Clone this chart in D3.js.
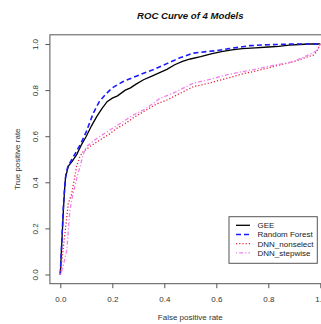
<!DOCTYPE html>
<html><head><meta charset="utf-8">
<script src="https://cdn.jsdelivr.net/npm/d3@7"></script>
<style>body{margin:0;background:#fff}svg{display:block}text{font-family:"Liberation Sans",Arial,sans-serif}</style>
</head><body>
<script>
const xTicks = [0, 0.2, 0.4, 0.6, 0.8, 1.0];
const yTicks = [0, 0.2, 0.4, 0.6, 0.8, 1.0];
const modelNames = ["GEE", "Random Forest", "DNN_nonselect", "DNN_stepwise"];

const geeFpr = [0,0.005,0.009,0.012,0.016,0.02,0.031,0.045,0.063,0.08,0.1,0.12,0.14,0.16,0.18,0.2,0.22,0.25,0.27,0.29,0.32,0.35,0.38,0.41,0.44,0.47,0.5,0.54,0.58,0.62,0.66,0.7,0.75,0.8,0.84,0.88,0.92,0.96,1.0];
const geeTpr = [0,0.12,0.21,0.28,0.36,0.42,0.47,0.49,0.52,0.56,0.60,0.645,0.685,0.72,0.75,0.765,0.775,0.80,0.81,0.825,0.845,0.86,0.875,0.89,0.91,0.925,0.935,0.945,0.957,0.967,0.975,0.98,0.983,0.987,0.99,0.995,0.998,1.0,1.0];

const rfFpr = [0,0.004,0.008,0.012,0.017,0.022,0.03,0.045,0.06,0.08,0.1,0.127,0.15,0.178,0.2,0.24,0.28,0.32,0.36,0.41,0.46,0.51,0.56,0.6,0.65,0.73,0.8,0.9,1.0];
const rfTpr = [0,0.1,0.2,0.3,0.38,0.44,0.47,0.5,0.53,0.57,0.62,0.70,0.75,0.786,0.81,0.836,0.855,0.873,0.89,0.915,0.94,0.96,0.967,0.971,0.98,0.993,0.997,1.0,1.0];

const nsFpr = [0,0.006,0.012,0.018,0.025,0.031,0.044,0.055,0.063,0.075,0.088,0.12,0.153,0.19,0.217,0.25,0.281,0.31,0.34,0.371,0.41,0.45,0.512,0.57,0.64,0.7,0.768,0.83,0.896,0.94,0.973,0.985,0.992,1.0];
const nsTpr = [0,0.06,0.12,0.18,0.25,0.31,0.35,0.42,0.47,0.51,0.533,0.56,0.584,0.61,0.634,0.655,0.68,0.70,0.72,0.74,0.757,0.78,0.815,0.83,0.851,0.87,0.887,0.905,0.923,0.94,0.952,0.965,0.981,1.0];

const swFpr = [0,0.01,0.025,0.037,0.047,0.056,0.066,0.076,0.088,0.1,0.14,0.191,0.23,0.281,0.33,0.383,0.44,0.512,0.57,0.64,0.7,0.768,0.83,0.896,0.94,0.973,0.99,1.0];
const swTpr = [0,0.03,0.106,0.28,0.34,0.381,0.43,0.468,0.52,0.554,0.59,0.627,0.655,0.692,0.72,0.764,0.79,0.83,0.845,0.866,0.88,0.895,0.91,0.923,0.945,0.963,0.975,1.0];

const W = 321, H = 324;
const x = d3.scaleLinear().domain([-0.04, 1.04]).range([49.9, 330.7]);
const y = d3.scaleLinear().domain([-0.04, 1.04]).range([283.7, 34.8]);

const svg = d3.select("body").append("svg").attr("width", W).attr("height", H);

const styles = [
  {color:"#000000", dash:null, width:1.3},
  {color:"#1a1aff", dash:"5,3", width:1.6},
  {color:"#e8203a", dash:"1.2,2", width:1.3},
  {color:"#ee82ee", dash:"1.2,2,4,2", width:1.3}
];
const series = [[geeFpr,geeTpr],[rfFpr,rfTpr],[nsFpr,nsTpr],[swFpr,swTpr]];

svg.append("clipPath").attr("id","c").append("rect")
  .attr("x",49.9).attr("y",34.8).attr("width",280.8).attr("height",248.9);

const line = d3.line().x(d=>x(d[0])).y(d=>y(d[1]));
const g = svg.append("g").attr("clip-path","url(#c)");
series.forEach((s,i)=>{
  const pts = s[0].map((v,j)=>[v, s[1][j]]);
  g.append("path").attr("d", line(pts)).attr("fill","none")
    .attr("stroke", styles[i].color).attr("stroke-width", styles[i].width)
    .attr("stroke-dasharray", styles[i].dash);
});

svg.append("rect").attr("x",49.9).attr("y",34.8).attr("width",280.8).attr("height",248.9)
  .attr("fill","none").attr("stroke","#555").attr("stroke-width",1);

const fmt = d3.format(".1f");
const xAxis = svg.append("g").attr("transform","translate(0,283.7)")
  .call(d3.axisBottom(x).tickValues(xTicks).tickFormat(fmt).tickSize(4.5).tickSizeOuter(0));
xAxis.select(".domain").remove();
xAxis.selectAll("line").attr("stroke","#555");
xAxis.selectAll("text").attr("font-size","8px").attr("fill","#333").attr("dy","0").attr("y",18.5)
  .style("font-family","'Liberation Sans',Arial,sans-serif");

const yAxis = svg.append("g").attr("transform","translate(49.9,0)")
  .call(d3.axisLeft(y).tickValues(yTicks).tickFormat(fmt).tickSize(4.5).tickSizeOuter(0));
yAxis.select(".domain").remove();
yAxis.selectAll("line").attr("stroke","#555");
yAxis.selectAll("text").attr("font-size","8px").attr("fill","#333")
  .attr("x",null).attr("dy",null)
  .attr("text-anchor","middle")
  .attr("transform","translate(-12,0) rotate(-90)")
  .style("font-family","'Liberation Sans',Arial,sans-serif");

svg.append("text").attr("x",190.3).attr("y",18.5).attr("text-anchor","middle")
  .attr("font-size","9.6px").attr("font-weight","bold").attr("font-style","italic").attr("fill","#111")
  .text("ROC Curve of 4 Models");
svg.append("text").attr("x",190.3).attr("y",319.5).attr("text-anchor","middle")
  .attr("font-size","8px").attr("fill","#333").text("False positive rate");
svg.append("text").attr("transform","translate(19.5,159.2) rotate(-90)").attr("text-anchor","middle")
  .attr("font-size","8px").attr("fill","#333").text("True positive rate");

const lg = svg.append("g");
lg.append("rect").attr("x",229).attr("y",216.7).attr("width",88.3).attr("height",46.6)
  .attr("fill","#fff").attr("stroke","#555").attr("stroke-width",1);
modelNames.forEach((n,i)=>{
  const yy = 225.3 + i*9.2;
  lg.append("line").attr("x1",236).attr("x2",250).attr("y1",yy).attr("y2",yy)
    .attr("stroke",styles[i].color).attr("stroke-width",styles[i].width)
    .attr("stroke-dasharray",styles[i].dash);
  lg.append("text").attr("x",257.5).attr("y",yy+2.8).attr("font-size","8px").attr("fill","#222").text(n);
});
</script>
</body></html>
